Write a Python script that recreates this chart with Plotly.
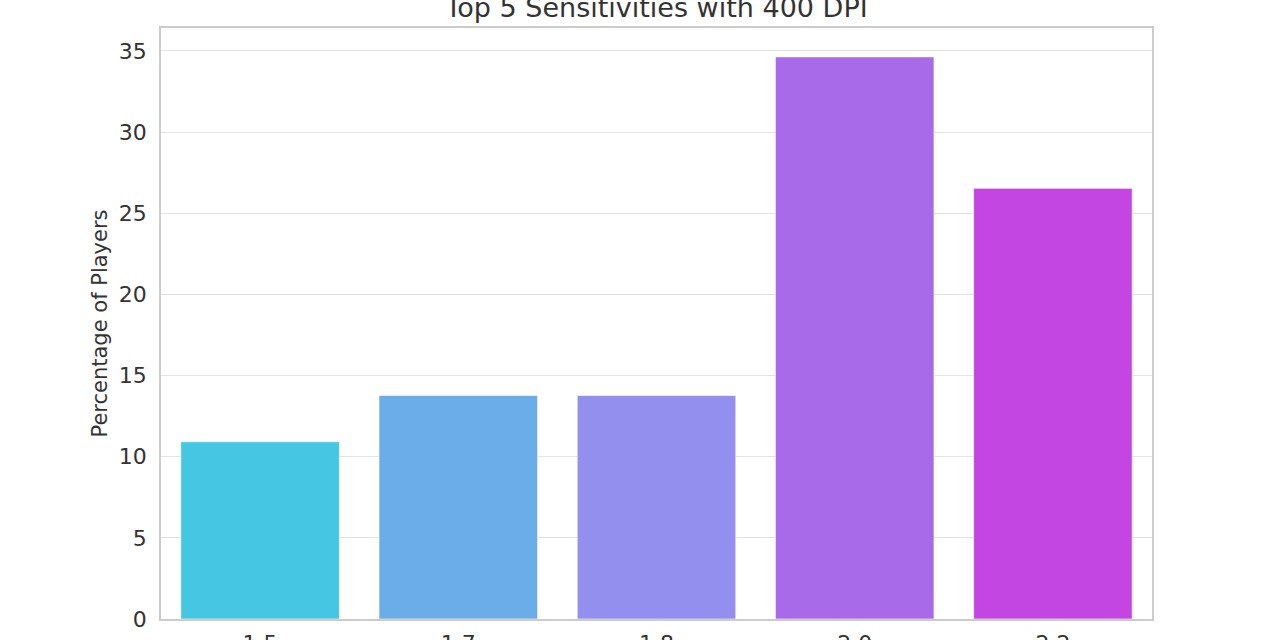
import plotly.graph_objects as go

categories = ["1.5", "1.7", "1.8", "2.0", "2.2"]
percentages = [10.92, 13.77, 13.77, 34.63, 26.53]
colors = ["#45c6e3", "#6aade8", "#928fef", "#a96aea", "#c346e3"]

fig = go.Figure(go.Bar(
    x=categories, y=percentages,
    marker=dict(color=colors, line=dict(color="rgba(255,255,255,0.6)", width=1)),
    width=0.8,
))

font = "DejaVu Sans, sans-serif"
fig.update_layout(
    width=1280, height=640,
    margin=dict(l=161, r=128, t=28, b=21, autoexpand=False),
    paper_bgcolor="white", plot_bgcolor="white",
    font=dict(family=font, color="#333333", size=22),
    title=dict(text="Top 5 Sensitivities with 400 DPI", x=(161 + 1152) / 2 / 1280, xanchor="center",
               yref="container", y=1 - 8 / 640, yanchor="middle",
               font=dict(size=27, color="#333333")),
    showlegend=False,
    bargap=0.2,
)
fig.update_xaxes(
    type="category", showgrid=False, showline=True, linecolor="#cccccc", linewidth=1.5,
    mirror=True, ticks="", ticklabelstandoff=4, automargin=False,
    tickfont=dict(size=22),
)
fig.update_yaxes(
    range=[0, 36.41], tickvals=[0, 5, 10, 15, 20, 25, 30, 35],
    showgrid=True, gridcolor="#e3e3e3", gridwidth=1,
    showline=True, linecolor="#cccccc", linewidth=1.5, mirror=True,
    ticks="", ticklabelstandoff=8, zeroline=False, automargin=False,
    title=dict(text="Percentage of Players", standoff=5, font=dict(size=21)),
    tickfont=dict(size=22),
)

fig.write_html("out.html")
